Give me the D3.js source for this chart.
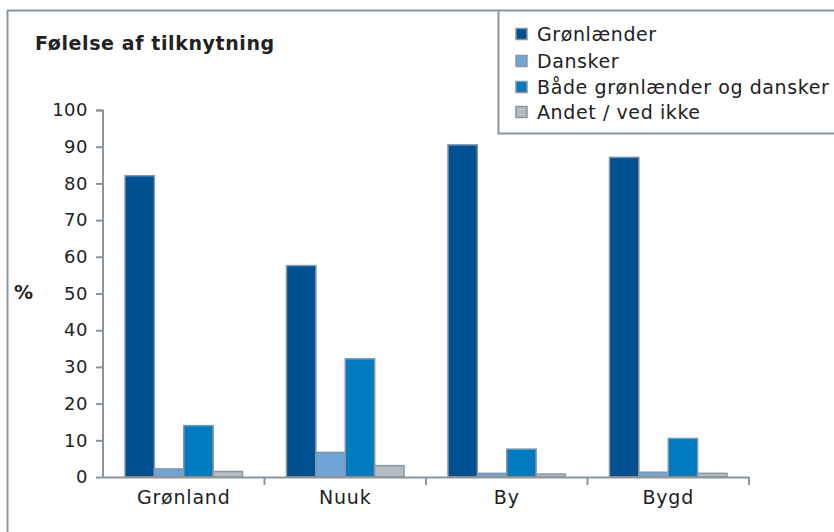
<!DOCTYPE html>
<html><head><meta charset="utf-8">
<script src="https://cdn.jsdelivr.net/npm/d3@7"></script>
<style>
html,body{margin:0;padding:0;background:#fff;}
svg{display:block;font-family:"DejaVu Sans",Verdana,sans-serif;}
</style></head>
<body><svg id="c" width="834" height="532"></svg>
<script>
const categories = ["Grønland","Nuuk","By","Bygd"];
const seriesNames = ["Grønlænder","Dansker","Både grønlænder og dansker","Andet / ved ikke"];
const groenlaender = [82.1, 57.6, 90.5, 87.1];
const dansker = [2.2, 6.7, 1.0, 1.3];
const begge = [14.0, 32.2, 7.6, 10.5];
const andet = [1.5, 3.1, 0.8, 1.0];
const yTicks = [0,10,20,30,40,50,60,70,80,90,100];
const colors = ["#005192","#6fa5d6","#007ac0","#b3bcc2"];

const series = [groenlaender, dansker, begge, andet];
const svg = d3.select("#c");
const grey = "#8b959d";
const txt = "#222";

// outer frame
svg.append("path").attr("d","M7.5,540 V10.5 H840").attr("fill","none").attr("stroke",grey).attr("stroke-width",2);

const x0 = d3.scaleBand().domain(categories).range([103,749]).paddingInner(0).paddingOuter(0);
const x1 = d3.scaleBand().domain(d3.range(4)).range([22, x0.bandwidth()-22]);
const y = d3.scaleLinear().domain([0,100]).range([477,110]);

// y axis
const yAxis = d3.axisLeft(y).tickValues(yTicks).tickSize(7).tickPadding(8);
const gy = svg.append("g").attr("transform","translate(103,0)").call(yAxis);
gy.select(".domain").attr("stroke",grey).attr("stroke-width",2).attr("d","M-7,110.5H0V477");
gy.selectAll(".tick line").attr("stroke",grey).attr("stroke-width",2);
gy.selectAll(".tick text").attr("font-size",18).attr("letter-spacing",0.5).attr("fill",txt)
  .attr("font-family","DejaVu Sans, Verdana, sans-serif");

// bars
categories.forEach((c,ci)=>{
  series.forEach((s,si)=>{
    svg.append("rect")
      .attr("x", x0(c)+x1(si))
      .attr("y", y(s[ci]))
      .attr("width", x1.bandwidth())
      .attr("height", y(0)-y(s[ci]))
      .attr("fill", colors[si])
      .attr("stroke", grey).attr("stroke-width",1.5);
  });
});

// x axis
const xAxisLine = svg.append("g");
xAxisLine.append("line").attr("x1",103).attr("x2",749).attr("y1",477.5).attr("y2",477.5).attr("stroke",grey).attr("stroke-width",2);
const bounds = categories.map(c=>x0(c)+x0.bandwidth());
xAxisLine.selectAll("line.t").data(bounds).enter().append("line")
  .attr("x1",d=>d).attr("x2",d=>d).attr("y1",477).attr("y2",485).attr("stroke",grey).attr("stroke-width",2);
svg.selectAll("text.xl").data(categories).enter().append("text")
  .attr("x",d=>x0(d)+x0.bandwidth()/2).attr("y",504)
  .attr("text-anchor","middle").attr("font-size",19).attr("letter-spacing",0.8).attr("fill",txt).text(d=>d);

// title
svg.append("text").attr("x",35).attr("y",50).attr("font-size",19).attr("letter-spacing",0.6)
  .attr("font-weight","bold").attr("fill",txt).text("Følelse af tilknytning");
// % label
svg.append("text").attr("x",14).attr("y",299).attr("font-size",19).attr("font-weight","bold").attr("fill",txt).text("%");

// legend
svg.append("path").attr("d","M498.5,10 V133.5 H840").attr("fill","none").attr("stroke",grey).attr("stroke-width",2);
const lg = svg.append("g");
const ly = [34,61,87,112];
seriesNames.forEach((n,i)=>{
  lg.append("rect").attr("x",516).attr("y",ly[i]-5.5).attr("width",11).attr("height",11)
    .attr("fill",colors[i]).attr("stroke",grey).attr("stroke-width",1.5);
  lg.append("text").attr("x",537).attr("y",ly[i]+6.5).attr("font-size",19).attr("letter-spacing",0.6)
    .attr("fill",txt).text(n);
});
</script></body></html>
